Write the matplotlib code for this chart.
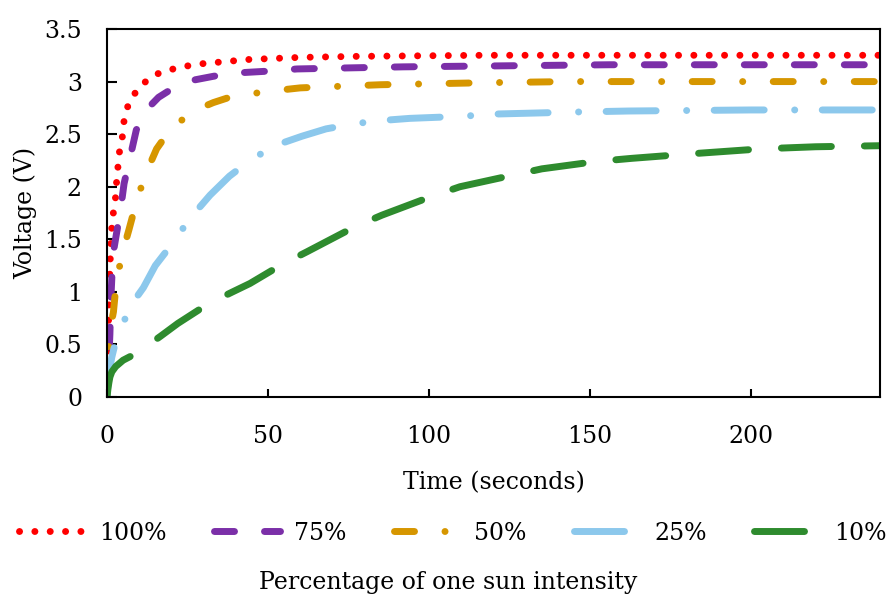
import matplotlib
matplotlib.use("Agg")
import matplotlib.pyplot as plt

# ---- data ----
t_100 = [0, 0.3, 0.7, 1.1, 1.5, 2.0, 2.7, 3.0, 3.4, 3.9, 4.8, 5.3, 6.5, 8.9, 12, 16.1, 20.6, 25.2, 29.6, 44, 60, 78, 117, 161, 200, 240]
v_100 = [0, 0.5, 1.0, 1.4, 1.62, 1.76, 1.91, 2.06, 2.19, 2.34, 2.48, 2.63, 2.77, 2.9, 3.0, 3.08, 3.12, 3.15, 3.17, 3.21, 3.23, 3.24, 3.25, 3.25, 3.25, 3.25]

t_75 = [0, 0.5, 0.9, 1.1, 1.3, 1.6, 2.1, 2.7, 4.2, 5.3, 7.1, 9.1, 12.8, 16, 19.6, 26.2, 33, 39, 50.6, 59, 75, 92, 124, 156, 200, 240]
v_75 = [0, 0.3, 0.6, 0.85, 1.0, 1.2, 1.4, 1.51, 1.78, 2.03, 2.27, 2.54, 2.75, 2.85, 2.92, 3.01, 3.05, 3.08, 3.1, 3.12, 3.13, 3.14, 3.15, 3.16, 3.16, 3.16]

t_50 = [0, 0.3, 0.6, 1.2, 2.0, 2.7, 4.4, 6.8, 8.9, 11.7, 15.4, 19.8, 26.8, 33, 39, 51, 60, 68, 85, 102, 119, 144, 200, 240]
v_50 = [0, 0.3, 0.54, 0.68, 0.81, 1.03, 1.33, 1.59, 1.83, 2.1, 2.36, 2.55, 2.72, 2.8, 2.86, 2.91, 2.94, 2.95, 2.97, 2.98, 2.99, 3.0, 3.0, 3.0]

t_25 = [0, 0.3, 0.6, 1.5, 2.7, 4.5, 6.3, 8.5, 11.3, 15, 20.3, 25.8, 32, 38, 44.4, 52, 60.5, 68, 77, 85.4, 94, 110.6, 119, 145, 162, 200, 240]
v_25 = [0, 0.12, 0.23, 0.38, 0.53, 0.67, 0.79, 0.92, 1.04, 1.25, 1.46, 1.70, 1.92, 2.1, 2.25, 2.39, 2.48, 2.55, 2.6, 2.63, 2.65, 2.67, 2.69, 2.71, 2.72, 2.73, 2.73]

t_10 = [0, 0.3, 0.6, 0.9, 1.5, 2.7, 5, 9.4, 16.7, 22, 29.6, 35, 39, 44.4, 54.3, 62, 77, 85.4, 101, 109.6, 126, 135, 152, 163, 180, 203, 220, 240]
v_10 = [0, 0.08, 0.14, 0.19, 0.24, 0.29, 0.35, 0.42, 0.58, 0.7, 0.85, 0.94, 1.0, 1.08, 1.26, 1.38, 1.62, 1.73, 1.91, 2.0, 2.11, 2.17, 2.24, 2.27, 2.31, 2.36, 2.38, 2.39]

labels = ["100%", "75%", "50%", "25%", "10%"]
x_ticks = [0, 50, 100, 150, 200]
y_ticks = [0, 0.5, 1, 1.5, 2, 2.5, 3, 3.5]
y_tick_labels = ["0", "0.5", "1", "1.5", "2", "2.5", "3", "3.5"]

# ---- style ----
plt.rcParams["font.family"] = ["DejaVu Serif"]
FS = 17
LW = 5.0
colors = ["#FF0000", "#7B2FA8", "#D69600", "#8CC8EC", "#2E8B2E"]
dashes = [
    (0, (0.01, 2.2)),
    (0, (2.88, 4.32)),
    (0, (2.88, 4.39, 0.01, 4.39)),
    (0, (7.2, 4.39, 0.01, 3.96)),
    (0, (7.2, 4.75)),
]

fig = plt.figure(figsize=(8.88, 5.99), dpi=100)
ax = fig.add_axes([0.1205, 0.3372, 0.8705, 0.6144])

series = [(t_100, v_100), (t_75, v_75), (t_50, v_50), (t_25, v_25), (t_10, v_10)]
handles = []
for (t, v), lab, c, ls in zip(series, labels, colors, dashes):
    h, = ax.plot(t, v, color=c, lw=LW, linestyle=ls,
                 dash_capstyle="round", solid_capstyle="round", label=lab)
    handles.append(h)

ax.set_xlim(0, 240)
ax.set_ylim(0, 3.5)
ax.set_xticks(x_ticks)
ax.set_xticklabels([str(x) for x in x_ticks])
ax.set_yticks(y_ticks)
ax.set_yticklabels(y_tick_labels)
ax.tick_params(axis="x", direction="in", length=6, width=1.5, pad=20, labelsize=FS)
ax.tick_params(axis="y", direction="in", length=7, width=1.5, pad=18, labelsize=FS)
for s in ax.spines.values():
    s.set_linewidth(1.5)

ax.set_xlabel("Time (seconds)", fontsize=FS, labelpad=17)
ax.set_ylabel("Voltage (V)", fontsize=FS, labelpad=5)

fig.legend(handles=handles, labels=labels, loc="center", bbox_to_anchor=(0.51, 0.11),
           ncol=5, frameon=False, fontsize=FS, handlelength=2.8, handletextpad=0.6,
           columnspacing=2.0, borderpad=0.2, borderaxespad=0)
fig.text(0.505, 0.027, "Percentage of one sun intensity", ha="center", va="center", fontsize=FS)

fig.savefig("out.png", dpi=100)
